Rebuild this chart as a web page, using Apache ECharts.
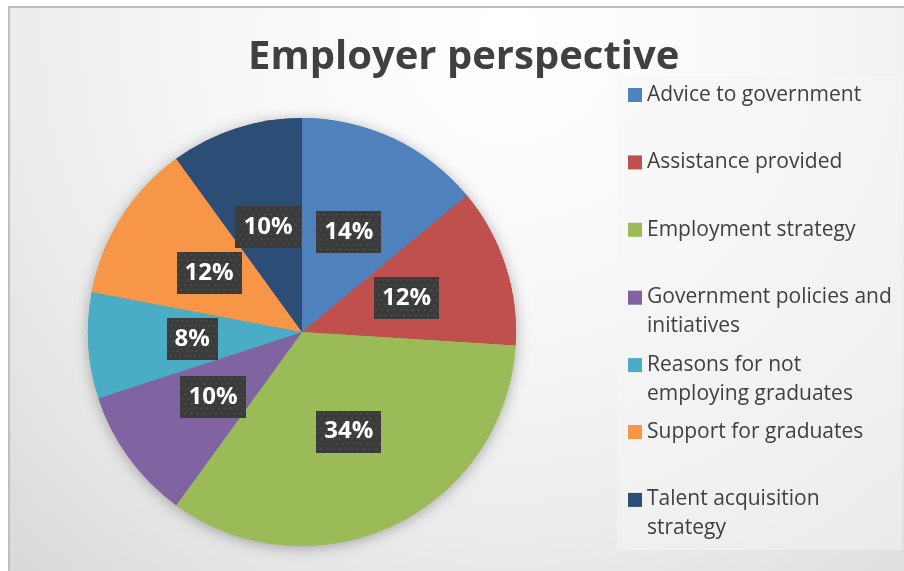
<!DOCTYPE html>
<html>
<head>
<meta charset="utf-8">
<title>Employer perspective</title>
<script src="https://cdn.jsdelivr.net/npm/echarts@6/dist/echarts.min.js"></script>
<style>
  html, body { margin: 0; padding: 0; background: #ffffff; }
  #chart { width: 904px; height: 571px; }
</style>
</head>
<body>
<div id="chart"></div>
<script>
// Share of responses by theme (percent)
const categories = [
  'Advice to government',
  'Assistance provided',
  'Employment strategy',
  'Government policies and initiatives',
  'Reasons for not employing graduates',
  'Support for graduates',
  'Talent acquisition strategy'
];
const shares = [14, 12, 34, 10, 8, 12, 10];
const sliceColors = ['#4F81BD', '#C0504D', '#9BBB59', '#8064A2', '#4BACC6', '#F79646', '#2C4D75'];
const titleText = 'Employer perspective';

const FONT = '"Open Sans", sans-serif';
const INK = '#404040';
const LEGEND_FONT_SIZE = 21;
const LEGEND_LINE = 29;
const LEGEND_WRAP = 250;

// Dark dotted texture behind the percentage labels
function makeLabelTexture(w, h) {
  const c = document.createElement('canvas');
  c.width = w; c.height = h;
  const g = c.getContext('2d');
  g.fillStyle = '#3b3b3b';
  g.fillRect(0, 0, w, h);
  g.fillStyle = '#4b4b4b';
  for (let y = 2, row = 0; y < h; y += 5, row++) {
    for (let x = (row % 2 ? 4 : 1); x < w; x += 6) {
      g.fillRect(x, y, 2, 2);
    }
  }
  return c;
}
const labelTexture = makeLabelTexture(64, 42);

// Greedy word wrap for legend entries, measured in the legend font
const meas = document.createElement('canvas').getContext('2d');
meas.font = LEGEND_FONT_SIZE + 'px "Open Sans"';
function wrapName(name) {
  const words = name.split(' ');
  const lines = [];
  let line = '';
  words.forEach(w => {
    const next = line ? line + ' ' + w : w;
    if (line && meas.measureText(next).width > LEGEND_WRAP) {
      lines.push(line);
      line = w;
    } else {
      line = next;
    }
  });
  lines.push(line);
  return lines.join('\n');
}

const legendTop0 = 95;     // centre of the first legend line
const legendStep = 67.4;   // spacing between legend entries

const data = categories.map((name, i) => ({
  name: name,
  value: shares[i],
  itemStyle: { color: sliceColors[i] }
}));

const legends = categories.map((name, i) => {
  const wraps = wrapName(name).indexOf('\n') >= 0;
  return {
    data: [name],
    orient: 'vertical',
    left: 628,
    top: legendTop0 + i * legendStep - LEGEND_LINE / 2,
    padding: 0,
    itemGap: 0,
    itemWidth: 14,
    itemHeight: wraps ? 42 : 14,
    // square marker kept level with the first text line
    icon: wraps ? 'path://M0,42M0,0L14,0L14,14L0,14Z' : 'rect',
    formatter: wrapName,
    textStyle: {
      fontFamily: FONT,
      fontSize: LEGEND_FONT_SIZE,
      lineHeight: LEGEND_LINE,
      color: INK
    }
  };
});

const chart = echarts.init(document.getElementById('chart'), null, { renderer: 'canvas' });

chart.setOption({
  animation: false,
  color: sliceColors,
  graphic: [
    {
      type: 'rect',
      z: -100,
      silent: true,
      shape: { x: 9, y: 7, width: 910, height: 580 },
      style: {
        fill: {
          type: 'radial', x: 0.55, y: 0.05, r: 1.35,
          colorStops: [
            { offset: 0, color: '#ffffff' },
            { offset: 0.3, color: '#f9f9f9' },
            { offset: 0.65, color: '#ebebeb' },
            { offset: 1, color: '#d4d4d4' }
          ]
        },
        stroke: '#bfbfbf',
        lineWidth: 2
      }
    },
    {
      type: 'rect',
      z: -99,
      silent: true,
      shape: { x: 617, y: 76, width: 285, height: 474 },
      style: { fill: 'rgba(245,245,245,0.5)' }
    }
  ],
  title: {
    text: titleText,
    left: 248,
    top: 38,
    padding: 0,
    textStyle: {
      fontFamily: FONT,
      fontSize: 40,
      fontWeight: 'bold',
      color: INK
    }
  },
  legend: legends,
  series: [
    {
      name: titleText,
      type: 'pie',
      z: 3,
      center: [302, 332],
      radius: 214,
      startAngle: 90,
      clockwise: true,
      data: data,
      itemStyle: { borderWidth: 0 },
      emphasis: { disabled: true },
      label: {
        show: true,
        position: 'inside',
        formatter: p => p.value + '%',
        fontFamily: FONT,
        fontSize: 24,
        fontWeight: 'bold',
        color: '#ffffff',
        lineHeight: 26,
        padding: [8, 8],
        backgroundColor: { image: labelTexture },
        shadowBlur: 6,
        shadowColor: 'rgba(0,0,0,0.45)',
        shadowOffsetX: 2,
        shadowOffsetY: 3
      },
      labelLine: { show: false }
    },
    {
      // soft drop shadow under the whole pie
      name: titleText + ' shadow',
      type: 'pie',
      z: 1,
      silent: true,
      center: [302, 332],
      radius: 214,
      startAngle: 90,
      clockwise: true,
      data: data,
      itemStyle: {
        shadowBlur: 14,
        shadowColor: 'rgba(0,0,0,0.3)',
        shadowOffsetX: 0,
        shadowOffsetY: 2
      },
      emphasis: { disabled: true },
      label: { show: false },
      labelLine: { show: false },
      tooltip: { show: false }
    }
  ]
});
</script>
</body>
</html>
